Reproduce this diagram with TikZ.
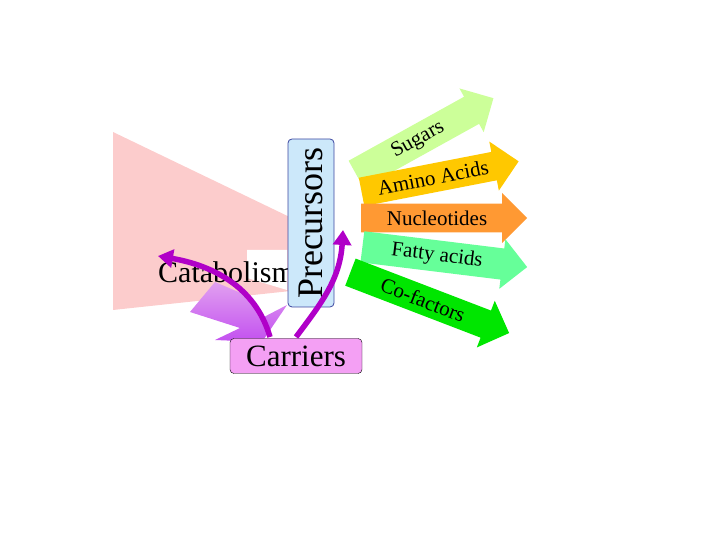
\documentclass[tikz,border=0pt]{standalone}
\usepackage{fontspec}
\setmainfont{Liberation Serif}
\usetikzlibrary{shapes.arrows,arrows.meta}
\begin{document}
\begin{tikzpicture}[x=1pt,y=1pt,
  flow/.style={single arrow, minimum width=50pt, single arrow head extend=7pt, single arrow head indent=0pt, inner sep=2pt, font=\fontsize{21}{21}\selectfont, anchor=center},
  carrier/.style={line width=5.5pt, draw={rgb,255:red,176;green,0;blue,200}, -{Triangle[length=15pt,width=18pt]}}]
\useasboundingbox (0,0) rectangle (720,540);
% pink triangle
\fill[fill={rgb,255:red,252;green,204;blue,204}] (113,408) -- (300,318) -- (300,250) -- (113,230) -- cycle;
\fill[white] (247,290) -- (287,290) -- (287,250) -- (247,262) -- cycle;
% purple gradient arrow
\shade[top color={rgb,255:red,225;green,160;blue,240}, bottom color={rgb,255:red,195;green,80;blue,240}]
  (215,258) -- (248,244) -- (262,222) -- (287,235) -- (262,198) -- (215,200) -- (240,212) -- (190,228) -- cycle;
\node[anchor=base west, font=\fontsize{30}{30}\selectfont, inner sep=0] (cat) at (158,257) {Catabolism};
% Precursors
\node[draw={rgb,255:red,60;green,70;blue,160}, fill={rgb,255:red,204;green,232;blue,250}, rounded corners=4pt, minimum width=46pt, minimum height=168pt, inner sep=0, line width=0.8pt] (pre) at (311,317) {};
\node[rotate=90, font=\fontsize{36}{36}\selectfont, inner sep=0] at (pre) {Precursors};
% Carriers
\node[draw, fill={rgb,255:red,244;green,160;blue,244}, rounded corners=4pt, minimum width=132pt, minimum height=35pt, font=\fontsize{31}{31}\selectfont, inner sep=0] (car) at (296,184) {Carriers};
\coordinate (c1) at (270,203);
\coordinate (c2) at (296,203);
\coordinate (t1) at (158,284);
\coordinate (t2) at (343,310);
\draw[carrier] (c1) .. controls (255,255) and (210,275) .. (t1);
\draw[carrier] (c2) .. controls (320,235) and (340,260) .. (t2);
% output arrows
\node[flow, fill={rgb,255:red,204;green,255;blue,153}, minimum height=157pt, rotate=29] (s) at (418,400) {Sugars\hspace{30pt}};
\node[flow, fill={rgb,255:red,255;green,200;blue,0}, minimum height=160pt, rotate=11] (a) at (433,362) {Amino Acids\hspace{12pt}};
\node[flow, fill={rgb,255:red,255;green,153;blue,51}, minimum height=166pt, rotate=0] (n) at (437,322) {Nucleotides\hspace{12pt}};
\node[flow, fill={rgb,255:red,102;green,255;blue,153}, minimum height=166pt, rotate=-7] (f) at (437,284) {Fatty acids\hspace{12pt}};
\node[flow, fill={rgb,255:red,0;green,230;blue,0}, minimum height=170pt, rotate=-21] (co) at (423,240) {Co-factors\hspace{26pt}};
\end{tikzpicture}
\end{document}
